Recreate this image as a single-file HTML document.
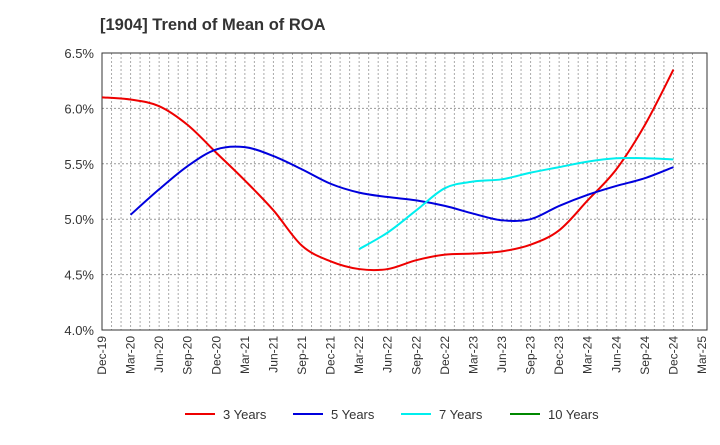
<!DOCTYPE html>
<html><head><meta charset="utf-8"><style>
body{margin:0;background:#fff;font-family:"Liberation Sans",Arial,sans-serif}
svg text{font-family:"Liberation Sans",Arial,sans-serif}
</style></head><body>
<svg id="chart" width="720" height="440" xmlns="http://www.w3.org/2000/svg">
<text x="100" y="30" font-size="16.5" font-weight="bold" fill="#333">[1904]  Trend of Mean of ROA</text>
<g id="grid"></g>
<g id="axes"></g>
<g id="series"></g>
<g id="legend"></g>
</svg>
<script>
const xLabels=["Dec-19","Mar-20","Jun-20","Sep-20","Dec-20","Mar-21","Jun-21","Sep-21","Dec-21","Mar-22","Jun-22","Sep-22","Dec-22","Mar-23","Jun-23","Sep-23","Dec-23","Mar-24","Jun-24","Sep-24","Dec-24","Mar-25"];
const yTicks=[4.0,4.5,5.0,5.5,6.0,6.5];
const roa3=[6.10,6.08,6.02,5.85,5.60,5.35,5.08,4.76,4.62,4.55,4.55,4.63,4.68,4.69,4.71,4.77,4.90,5.17,5.45,5.85,6.35];
const roa5=[null,5.04,5.27,5.48,5.63,5.65,5.57,5.45,5.32,5.24,5.20,5.17,5.12,5.05,4.99,5.00,5.12,5.22,5.30,5.37,5.47];
const roa7=[null,null,null,null,null,null,null,null,null,4.73,4.88,5.08,5.28,5.34,5.36,5.42,5.47,5.52,5.55,5.55,5.54];
const roa10=[];
const seriesNames=["3 Years","5 Years","7 Years","10 Years"];
const seriesColors=["#ee0000","#0000dd","#00eeee","#008800"];
const L=102,R=702,RF=707,T=53,B=330;
const NS="http://www.w3.org/2000/svg";
const xs=i=>L+i*(R-L)/(xLabels.length-1);
const ys=v=>B-(v-4.0)/(6.5-4.0)*(B-T);
function mk(tag,attrs,parent){const e=document.createElementNS(NS,tag);for(const k in attrs)e.setAttribute(k,attrs[k]);parent.appendChild(e);return e;}
const grid=document.getElementById('grid'),axes=document.getElementById('axes'),ser=document.getElementById('series'),leg=document.getElementById('legend');
const nM=(xLabels.length-1)*3;
for(let m=1;m<nM;m++){const x=L+m*(R-L)/nM;const l=mk('line',{x1:x,x2:x,y1:T,y2:B,stroke:'#aaa','stroke-width':1,'stroke-dasharray':'2,2'},grid);

}
yTicks.forEach(v=>{const y=ys(v);
if(v>4.0&&v<6.5){const l=mk('line',{x1:L,x2:RF,y1:y,y2:y,stroke:'#999','stroke-width':1,'stroke-dasharray':'2,2'},grid);

}
const t=mk('text',{x:L-8,y:y+5,'font-size':13,'text-anchor':'end',fill:'#333'},axes);t.textContent=v.toFixed(1)+'%';

});
const fr=mk('rect',{x:L,y:T,width:RF-L,height:B-T,fill:'none',stroke:'#333','stroke-width':1},axes);


xLabels.forEach((s,i)=>{const x=xs(i);const t=mk('text',{transform:`translate(${x+4},${B+6}) rotate(-90)`,'font-size':12,'text-anchor':'end',fill:'#333'},axes);t.textContent=s;

});
function path(vals){const p=[];vals.forEach((v,i)=>{if(v!=null)p.push([xs(i),ys(v)]);});if(p.length<2)return '';
let d=`M${p[0][0]},${p[0][1]}`;for(let i=0;i<p.length-1;i++){const p0=p[i-1]||p[i],p1=p[i],p2=p[i+1],p3=p[i+2]||p2;
d+=` C${p1[0]+(p2[0]-p0[0])/6},${p1[1]+(p2[1]-p0[1])/6} ${p2[0]-(p3[0]-p1[0])/6},${p2[1]-(p3[1]-p1[1])/6} ${p2[0]},${p2[1]}`;}return d;}
[roa3,roa5,roa7,roa10].forEach((vals,k)=>{const d=path(vals);if(!d)return;const e=mk('path',{d:d,fill:'none',stroke:seriesColors[k],'stroke-width':2},ser);

});
const lx=[185,293,401,510];
seriesNames.forEach((n,k)=>{const g=mk('g',{},leg);


mk('line',{x1:lx[k],x2:lx[k]+30,y1:414,y2:414,stroke:seriesColors[k],'stroke-width':2},g);
const t=mk('text',{x:lx[k]+38,y:419,'font-size':13,fill:'#333'},g);t.textContent=n;});
</script>
</body></html>
